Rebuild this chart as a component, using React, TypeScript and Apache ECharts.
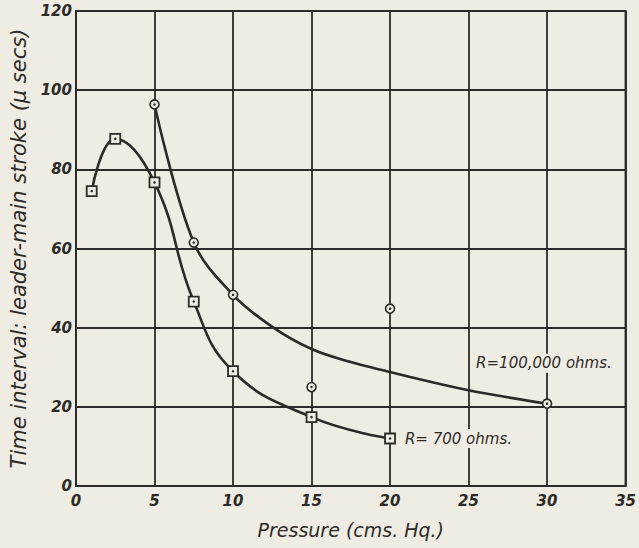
import React, { useEffect, useRef } from "react";
import * as echarts from "echarts";

// R = 700 ohms (squares)
const pressureR700 = [1, 2.5, 5, 7.5, 10, 15, 20];
const timeR700 = [74.5, 87.7, 76.7, 46.6, 29, 17.4, 12];

// R = 100,000 ohms (circles)
const pressureR100k = [5, 7.5, 10, 15, 20, 30];
const timeR100k = [96.4, 61.5, 48.3, 25, 44.8, 20.8];

// hand-drawn fitted curve through the R = 100,000 ohms data
const fitPressureR100k = [5, 7.5, 10, 12.5, 15, 17.5, 20, 22.5, 25, 27.5, 30];
const fitTimeR100k = [96.4, 61.5, 48.3, 40.2, 34.6, 31.3, 28.8, 26.4, 24.2, 22.4, 20.8];

const labelR700 = "R= 700 ohms.";
const labelR100k = "R=100,000 ohms.";
const labelR100kAt = [25.1, 31];

const xTitle = "Pressure (cms. Hq.)";
const yTitle = "Time interval: leader-main stroke (\u03bc secs)";

const INK = "#2c2b28";
const PAPER = "#efece3";
const FONT = "'DejaVu Sans', 'Liberation Sans', sans-serif";

const zip = (xs: number[], ys: number[]) => xs.map((x, i) => [x, ys[i]]);

export default function App() {
  const ref = useRef<HTMLDivElement>(null);
  useEffect(() => {
    if (!ref.current) return;
    const chart = echarts.init(ref.current, undefined, { renderer: "svg" });
    const r700 = zip(pressureR700, timeR700);
    const r100k = zip(pressureR100k, timeR100k);
    const fit = zip(fitPressureR100k, fitTimeR100k);
    const axisLabel = {
      color: INK,
      fontFamily: FONT,
      fontStyle: "italic" as const,
      fontWeight: "bold" as const,
      fontSize: 15,
    };
    const noteStyle = {
      color: INK,
      fontFamily: FONT,
      fontStyle: "italic" as const,
      fontSize: 15,
      backgroundColor: PAPER,
      padding: [2, 1, 2, 1],
    };
    chart.setOption({
      animation: false,
      backgroundColor: PAPER,
      grid: {
        left: 74,
        right: 8,
        top: 11,
        bottom: 62,
        show: true,
        borderColor: INK,
        borderWidth: 2,
        backgroundColor: "transparent",
      },
      xAxis: {
        type: "value",
        min: 0,
        max: 35,
        interval: 5,
        axisLine: { show: true, lineStyle: { color: INK, width: 2 } },
        axisTick: { show: false },
        splitLine: { show: true, lineStyle: { color: INK, width: 1.8 } },
        axisLabel: { ...axisLabel, margin: 7 },
        name: xTitle,
        nameLocation: "middle",
        nameGap: 34,
        nameTextStyle: { color: INK, fontFamily: FONT, fontStyle: "italic", fontSize: 19 },
      },
      yAxis: {
        type: "value",
        min: 0,
        max: 120,
        interval: 20,
        axisLine: { show: true, lineStyle: { color: INK, width: 2 } },
        axisTick: { show: false },
        splitLine: { show: true, lineStyle: { color: INK, width: 1.8 } },
        axisLabel: { ...axisLabel, margin: 4 },
        name: yTitle,
        nameLocation: "middle",
        nameGap: 47,
        nameRotate: 90,
        nameTextStyle: { color: INK, fontFamily: FONT, fontStyle: "italic", fontSize: 21 },
      },
      series: [
        {
          type: "line",
          data: fit,
          smooth: 0.35,
          symbol: "none",
          lineStyle: { color: INK, width: 2.6 },
          z: 3,
          markPoint: {
            symbol: "circle",
            symbolSize: 0,
            data: [{ coord: labelR100kAt, value: labelR100k }],
            label: {
              show: true,
              position: "right",
              formatter: labelR100k,
              ...noteStyle,
            },
          },
        },
        {
          type: "line",
          data: r700,
          smooth: 0.45,
          symbol: "rect",
          symbolSize: 10,
          itemStyle: { color: PAPER, borderColor: INK, borderWidth: 1.8 },
          lineStyle: { color: INK, width: 2.6 },
          z: 4,
          label: {
            show: true,
            position: "right",
            distance: 8,
            formatter: (p: any) => (p.dataIndex === r700.length - 1 ? labelR700 : ""),
            ...noteStyle,
          },
        },
        {
          type: "scatter",
          data: r100k,
          symbol: "circle",
          symbolSize: 9,
          itemStyle: { color: PAPER, borderColor: INK, borderWidth: 1.6, opacity: 1 },
          z: 5,
        },
        {
          type: "scatter",
          data: [...r700, ...r100k],
          symbol: "circle",
          symbolSize: 2.5,
          itemStyle: { color: INK, opacity: 1 },
          z: 6,
          silent: true,
        },
      ],
    });
    return () => chart.dispose();
  }, []);
  return (
    <div
      ref={ref}
      style={{ position: "fixed", left: 0, top: 0, width: 639, height: 548 }}
    />
  );
}
